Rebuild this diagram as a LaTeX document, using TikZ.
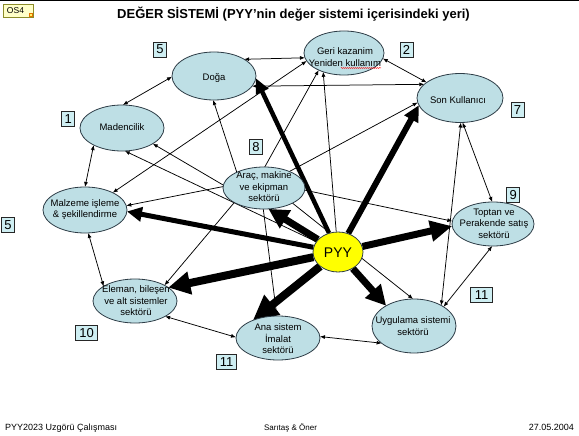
\documentclass[tikz,border=0pt]{standalone}
\usepackage{fontspec}
\setmainfont{Liberation Sans}
\usetikzlibrary{shapes.geometric,arrows.meta,backgrounds,decorations.pathmorphing}
\definecolor{ellfill}{RGB}{190,223,229}
\definecolor{boxfill}{RGB}{206,238,242}
\definecolor{edgecol}{RGB}{45,60,70}
\definecolor{osfill}{RGB}{255,255,200}
\definecolor{osdraw}{RGB}{140,140,40}
\definecolor{pyyfill}{RGB}{255,255,0}
\tikzset{
  ell/.style={ellipse,draw=edgecol,line width=0.8pt,fill=ellfill,inner sep=0pt,outer sep=0pt},
  txt/.style={align=center,font=\fontsize{9.5}{11.5}\selectfont,inner sep=0pt},
  numbox/.style={draw=black!85,fill=boxfill,line width=0.7pt,inner sep=0pt,minimum height=15pt,minimum width=13pt,font=\fontsize{13}{13}\selectfont},
  numboxw/.style={numbox,minimum width=22pt},
  both/.style={line width=0.75pt,{Latex[length=5pt,width=4pt]}-{Latex[length=5pt,width=4pt]}},
  onew/.style={line width=0.75pt,-{Latex[length=5pt,width=4pt]}},
  bigarrow/.style n args={3}{line width=#1,-{Triangle[length=#2,width=#3]}},
  foot/.style={inner sep=0pt,font=\fontsize{9}{9}\selectfont},
}
\begin{document}
\begin{tikzpicture}[x=1pt,y=-1pt]
\useasboundingbox (0,0) rectangle (579,436);
% top rule
\draw[line width=1pt] (0,0.5) -- (579,0.5);
% OS4 tag
\node[draw=osdraw,fill=osfill,line width=0.7pt,minimum width=30pt,minimum height=13pt,inner sep=0pt] (os4) at (18,10.5) {};
\node[inner sep=0pt,font=\fontsize{8.5}{8.5}\selectfont] (os4-t) at (15.5,10.5) {OS4};
\draw[orange!90!black,fill=yellow!60,line width=0.4pt] (os4.south east) ++(-4.5,-1) rectangle ++(3,-3);
% title
\node[font=\bfseries\fontsize{13}{13}\selectfont,anchor=base,inner sep=0pt] (title) at (293.5,18.3) {DEĞER SİSTEMİ (PYY’nin değer sistemi içerisindeki yeri)};

% ellipses
\node[ell,minimum width=84pt,minimum height=48pt] (doga) at (214,76) {};
\node[ell,minimum width=80pt,minimum height=44pt] (geri) at (344,53) {};
\node[ell,minimum width=86pt,minimum height=49pt] (son) at (460,98) {};
\node[ell,minimum width=84pt,minimum height=46pt] (maden) at (122,128) {};
\node[ell,minimum width=84pt,minimum height=46pt] (malz) at (85,210) {};
\node[ell,minimum width=82pt,minimum height=42pt] (arac) at (264,188) {};
\node[ell,minimum width=82pt,minimum height=44pt] (toptan) at (493,224) {};
\node[ell,minimum width=84pt,minimum height=54pt] (uyg) at (414,326) {};
\node[ell,minimum width=84pt,minimum height=44pt] (ana) at (278,338) {};
\node[ell,minimum width=84pt,minimum height=44pt] (elem) at (135,301) {};
\node[ellipse,draw=edgecol,fill=pyyfill,line width=0.8pt,minimum width=50pt,minimum height=40pt,inner sep=0pt] (pyy) at (338,252) {};

% texts
\node[txt] (doga-t) at (214,78) {Doğa};
\node[txt] (geri-t) at (345,57) {Geri kazanim\\Yeniden kullanım};
\draw[red,line width=0.5pt,decorate,decoration={snake,amplitude=0.5pt,segment length=2pt}] (341,68) -- (381,68);
\node[txt] (son-t) at (458,100) {Son Kullanıcı};
\node[txt] (maden-t) at (122,127) {Madencilik};
\node[txt] (malz-t) at (85,209.5) {Malzeme işleme\\\& şekillendirme};
\node[txt] (arac-t) at (264,187) {Araç, makine\\ve ekipman\\sektörü};
\node[txt] (toptan-t) at (494,223.5) {Toptan ve\\Perakende satış\\sektörü};
\node[txt] (uyg-t) at (413,326) {Uygulama sistemi\\sektörü};
\node[txt] (ana-t) at (278,339) {Ana sistem\\İmalat\\sektörü};
\node[txt] (elem-t) at (136,301) {Eleman, bileşen\\ve alt sistemler\\sektörü};
\node[inner sep=0pt,font=\fontsize{14}{14}\selectfont] (pyy-t) at (338,252.5) {PYY};

% number boxes
\node[numbox] (n5a) at (160,49.5) {5};
\node[numbox] (n2) at (406.5,49.5) {2};
\node[numbox] (n7) at (517.5,110) {7};
\node[numbox] (n1) at (68.3,119) {1};
\node[numbox] (n8) at (256,147) {8};
\node[numbox] (n5b) at (8,225) {5};
\node[numbox] (n9) at (513.3,195) {9};
\node[numboxw] (n11a) at (481.7,295) {11};
\node[numboxw] (n10) at (86.7,333.3) {10};
\node[numboxw,minimum width=20pt] (n11b) at (226.7,361.7) {11};

% footer
\node[foot,anchor=base west] (f1) at (5,430.5) {PYY2023 Uzgörü Çalışması};
\node[foot,anchor=base,font=\fontsize{8}{8}\selectfont] (f2) at (290.5,430.5) {Sarıtaş \& Öner};
\node[foot,anchor=base east] (f3) at (574,430.5) {27.05.2004};

\begin{pgfonlayer}{background}
\fill[white] (0,0) rectangle (579,436);
% ring of double arrows
\draw[both] (doga.29) -- (geri.187);
\draw[both] (geri.-8) -- (son.155);
\draw[both] (son.159) -- (doga.-15);
\draw[both] (doga.181) -- (maden.88);
\draw[both] (maden.211) -- (malz.90);
\draw[both] (malz.-82) -- (elem.155);
\draw[both] (elem.-27) -- (ana.179);
\draw[both] (ana.2) -- (uyg.208);
\draw[both] (uyg.33) -- (toptan.268);
\draw[both] (toptan.92) -- (son.-84);
\draw[both] (son.-88) -- (uyg.37);
\draw[both] (malz.32) -- (geri.192);
% thin arrows
\draw[onew] (arac.150) -- (doga.268);
\draw[onew] (arac.88) -- (geri.214);
\draw[onew] (pyy.95) -- (geri.222);
\draw[onew] (arac.33) -- (son.186);
\draw[onew] (arac.-3) -- (toptan.176);
\draw[onew] (arac.178) -- (malz.6);
\draw[onew] (arac.206) -- (elem.28);
\draw[onew] (arac.-92) -- (ana.93);
\draw[onew] (arac.176) -- (maden.-27);
\draw[onew] (pyy) -- (maden.-83);
\draw[onew] (arac.-28) -- (uyg.92);
% thick arrows from PYY
\draw[bigarrow={4.5pt}{15pt}{13pt}] (pyy) -- (doga.-3);
\draw[bigarrow={6pt}{16pt}{15pt}] (pyy) -- (son.190);
\draw[bigarrow={7pt}{22pt}{20pt}] (pyy) -- (toptan.183);
\draw[bigarrow={7pt}{20pt}{20pt}] (pyy) -- (uyg.144);
\draw[bigarrow={8pt}{25pt}{24pt}] (pyy) -- (ana.145);
\draw[bigarrow={8pt}{22pt}{22pt}] (pyy) -- (elem.22);
\draw[bigarrow={5pt}{15pt}{14pt}] (pyy) -- (malz.-2);
\draw[bigarrow={7pt}{20pt}{20pt}] (pyy) -- (arac.-78);
\end{pgfonlayer}
\end{tikzpicture}
\end{document}
